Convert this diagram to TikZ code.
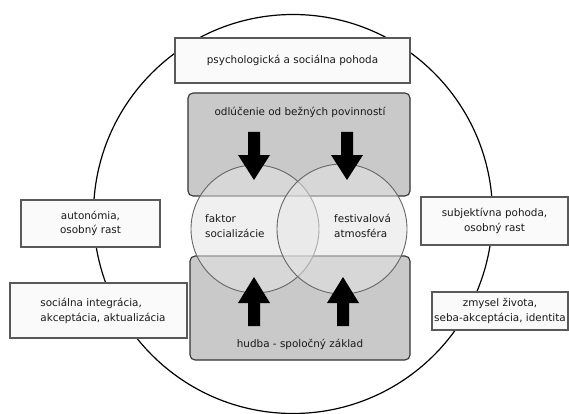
\documentclass[tikz,border=0pt]{standalone}
\usepackage{fontspec}
\setmainfont{DejaVu Sans}
\definecolor{boxgray}{gray}{0.79}
\definecolor{venngray}{gray}{0.895}
\begin{document}
\begin{tikzpicture}[x=1pt,y=-1pt,
  whitebox/.style={draw=black!65, line width=1.2pt, fill=black!2},
  graybox/.style={draw=black!80, line width=1.1pt, fill=boxgray, rounded corners=5pt},
  venn/.style={draw=black!60, line width=0.9pt, fill=venngray, fill opacity=0.55},
  lbl/.style={font=\fontsize{10.4}{14.5}\selectfont, text=black!90, inner sep=0pt},
  bigarrow/.style={fill=black}]
\useasboundingbox (0,0) rectangle (569,414);
% big circle
\draw[line width=1.2pt] (293,214) circle[radius=199.5];
% white boxes
\node[whitebox, minimum width=235, minimum height=45, inner sep=0pt] (b1) at (292.5,60.5) {};
\node[whitebox, minimum width=139, minimum height=47, inner sep=0pt] (b2) at (90.5,223.5) {};
\node[whitebox, minimum width=177, minimum height=55, inner sep=0pt] (b3) at (98.5,310.5) {};
\node[whitebox, minimum width=147, minimum height=48, inner sep=0pt] (b4) at (494.5,221) {};
\node[whitebox, minimum width=136, minimum height=38, inner sep=0pt] (b5) at (500,311) {};
% gray boxes
\node[graybox, minimum width=222, minimum height=103, inner sep=0pt] (g1) at (299,144.5) {};
\node[graybox, minimum width=220, minimum height=104, inner sep=0pt] (g2) at (300,308) {};
% venn circles
\node[venn, circle, minimum size=128, inner sep=0pt] (c1) at (255,229) {};
\node[venn, circle, minimum size=130, inner sep=0pt] (c2) at (342,229) {};
% arrows down
\fill[bigarrow] (248,132) -- (260,132) -- (260,155) -- (270,155) -- (254,180) -- (238,155) -- (248,155) -- cycle;
\fill[bigarrow] (341,132) -- (353,132) -- (353,155) -- (363,155) -- (347,180) -- (331,155) -- (341,155) -- cycle;
% arrows up
\fill[bigarrow] (248,326) -- (260,326) -- (260,303) -- (270,303) -- (254,277) -- (238,303) -- (248,303) -- cycle;
\fill[bigarrow] (337,326) -- (349,326) -- (349,303) -- (359,303) -- (343,277) -- (327,303) -- (337,303) -- cycle;
% texts
\node[lbl] (t1) at (b1) {psychologická a sociálna pohoda};
\node[lbl] (t2) at (300,112) {odlúčenie od bežných povinností};
\node[lbl] (t3) at (300,344) {hudba - spoločný základ};
\node[lbl, align=left, anchor=west] (t4) at (205,226) {faktor\\socializácie};
\node[lbl, align=left, anchor=west] (t5) at (334,226) {festivalová\\atmosféra};
\node[lbl, align=center] (t6) at (b2) {autonómia,\\osobný rast};
\node[lbl, align=left] (t7) at (103,311) {sociálna integrácia,\\akceptácia, aktualizácia};
\node[lbl, align=center] (t8) at (b4) {subjektívna pohoda,\\osobný rast};
\node[lbl, align=center] (t9) at (b5) {zmysel života,\\seba-akceptácia, identita};
\end{tikzpicture}
\end{document}
